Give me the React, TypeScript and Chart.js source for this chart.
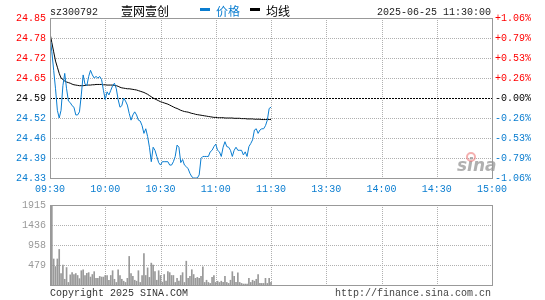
import React, { useEffect, useRef } from "react";
import { Chart, registerables } from "chart.js";

Chart.register(...registerables);

// ---------- data ----------
const prices: number[] = [
  24.79, 24.74, 24.68, 24.62, 24.55, 24.525, 24.55, 24.63, 24.67, 24.62,
  24.58, 24.575, 24.565, 24.56, 24.535, 24.535, 24.545, 24.6, 24.665, 24.635,
  24.63, 24.66, 24.68, 24.665, 24.655, 24.66, 24.655, 24.66, 24.65, 24.615,
  24.585, 24.61, 24.6, 24.615, 24.63, 24.638, 24.62, 24.585, 24.56, 24.565,
  24.59, 24.58, 24.567, 24.54, 24.518, 24.535, 24.545, 24.535, 24.518, 24.515,
  24.5, 24.475, 24.49, 24.465, 24.43, 24.383, 24.43, 24.42, 24.4, 24.38,
  24.372, 24.383, 24.383, 24.383, 24.383, 24.372, 24.372, 24.383, 24.4, 24.437,
  24.43, 24.38, 24.39, 24.372, 24.367, 24.36, 24.345, 24.334, 24.33, 24.33,
  24.33, 24.34, 24.394, 24.4, 24.4, 24.4, 24.4, 24.415, 24.42, 24.432,
  24.44, 24.42, 24.415, 24.4, 24.43, 24.448, 24.432, 24.43, 24.42, 24.4,
  24.42, 24.43, 24.42, 24.42, 24.42, 24.405, 24.415, 24.4, 24.432, 24.442,
  24.454, 24.486, 24.49, 24.475, 24.486, 24.49, 24.49, 24.5, 24.518, 24.556,
  24.56,
];

const avgPrices: number[] = [
  24.8, 24.77, 24.74, 24.71, 24.69, 24.67, 24.655, 24.65, 24.645, 24.642,
  24.64, 24.638, 24.635, 24.633, 24.632, 24.631, 24.63, 24.63, 24.63, 24.631,
  24.632, 24.632, 24.632, 24.633, 24.633, 24.634, 24.634, 24.634, 24.634, 24.633,
  24.633, 24.632, 24.632, 24.632, 24.632, 24.631, 24.63, 24.628, 24.625, 24.623,
  24.622, 24.621, 24.62, 24.62, 24.619, 24.618, 24.617, 24.616, 24.614, 24.612,
  24.61, 24.608, 24.605, 24.602, 24.598, 24.594, 24.59, 24.587, 24.584, 24.581,
  24.578, 24.576, 24.574, 24.572, 24.57, 24.567, 24.564, 24.561, 24.558, 24.556,
  24.553, 24.55, 24.548, 24.546, 24.545, 24.544, 24.542, 24.54, 24.539, 24.537,
  24.536, 24.535, 24.534, 24.533, 24.532, 24.531, 24.53, 24.529, 24.528, 24.527,
  24.527, 24.526, 24.526, 24.526, 24.526, 24.525, 24.525, 24.525, 24.525, 24.525,
  24.524, 24.524, 24.524, 24.524, 24.523, 24.523, 24.523, 24.522, 24.522, 24.522,
  24.522, 24.521, 24.521, 24.521, 24.521, 24.52, 24.52, 24.52, 24.52, 24.52,
  24.52,
];

const volumes: number[] = [
  480, 1915, 623, 441, 623, 851, 274, 479, 137, 418,
  61, 243, 296, 251, 274, 228, 152, 342, 365, 228,
  281, 296, 190, 251, 319, 160, 160, 205, 190, 190,
  228, 228, 114, 228, 342, 137, 61, 365, 228, 137,
  91, 61, 160, 684, 274, 205, 114, 91, 342, 61,
  228, 752, 228, 410, 182, 524, 479, 319, 114, 342,
  228, 68, 251, 91, 319, 296, 228, 228, 61, 160,
  91, 228, 296, 61, 570, 160, 205, 365, 251, 160,
  182, 160, 205, 433, 61, 114, 61, 38, 182, 228,
  61, 91, 61, 91, 61, 205, 61, 38, 114, 319,
  205, 61, 289, 61, 38, 23, 23, 23, 160, 61,
  114, 91, 137, 251, 38, 38, 38, 160, 38, 160,
  61,
];

const timeLabels = ["09:30", "10:00", "10:30", "11:00", "11:30", "13:30", "14:00", "14:30", "15:00"];
const priceTickLabels = ["24.33", "24.39", "24.46", "24.52", "24.59", "24.65", "24.72", "24.78", "24.85"];
const pctTickLabels = ["-1.06%", "-0.79%", "-0.53%", "-0.26%", "-0.00%", "+0.26%", "+0.53%", "+0.79%", "+1.06%"];
const volTickLabels = ["", "479", "958", "1436", "1915"];

const STOCK_CODE = "sz300792";
const STOCK_NAME = "壹网壹创";
const PRICE_LEGEND = "价格";
const AVG_LEGEND = "均线";
const DATE_TEXT = "2025-06-25 11:30:00";
const COPYRIGHT = "Copyright 2025 SINA.COM";
const SITE = "http://finance.sina.com.cn";

const PRICE_MIN = 24.33;
const PRICE_MAX = 24.85;
const PCT_MIN = -1.06;
const PCT_MAX = 1.06;
const VOL_MAX = 1915;
const TOTAL_MIN = 240;

// ---------- styles ----------
const MONO = '"Liberation Mono", "DejaVu Sans Mono", monospace';
const CJK = '"Noto Sans CJK SC", sans-serif';
const BLUE = "#0a7dd0";
const RED = "#ff0000";
const GRID = "#b0b0b0";
const BORDER = "#999999";
const NO_GRID = { display: false, drawTicks: false, tickLength: 0 };

const evenTicks = (min: number, max: number, n: number) =>
  Array.from({ length: n }, (_, i) => ({ value: min + ((max - min) * i) / (n - 1) }));

const tickColor = (i: number) => (i < 4 ? BLUE : i === 4 ? "#000000" : RED);

function hLine(ctx: CanvasRenderingContext2D, x1: number, x2: number, y: number) {
  ctx.beginPath();
  ctx.moveTo(x1, y);
  ctx.lineTo(x2, y);
  ctx.stroke();
}
function vLine(ctx: CanvasRenderingContext2D, x: number, y1: number, y2: number) {
  ctx.beginPath();
  ctx.moveTo(x, y1);
  ctx.lineTo(x, y2);
  ctx.stroke();
}

const priceDecor = {
  id: "priceDecor",
  beforeDatasetsDraw(chart: any) {
    const { ctx, chartArea: a, scales } = chart;
    const xs = scales.x;
    const ys = scales.y;
    ctx.save();
    ctx.lineWidth = 1;
    ctx.strokeStyle = GRID;
    ctx.setLineDash([1, 1]);
    for (let m = 30; m < TOTAL_MIN; m += 30) {
      const px = Math.round(xs.getPixelForValue(m)) + 0.5;
      vLine(ctx, px, a.top, a.bottom);
    }
    ys.ticks.forEach((t: any, i: number) => {
      if (i === 0 || i === ys.ticks.length - 1) return;
      const py = Math.round(ys.getPixelForValue(t.value)) + 0.5;
      if (i === 4) {
        ctx.strokeStyle = "#000000";
        ctx.setLineDash([2, 1]);
      } else {
        ctx.strokeStyle = GRID;
        ctx.setLineDash([1, 1]);
      }
      hLine(ctx, a.left, a.right, py);
    });
    ctx.restore();
  },
  afterDraw(chart: any) {
    const { ctx, chartArea: a } = chart;
    ctx.save();
    ctx.strokeStyle = BORDER;
    ctx.lineWidth = 1;
    ctx.setLineDash([]);
    ctx.strokeRect(Math.round(a.left) + 0.5, Math.round(a.top) + 0.5, Math.round(a.right - a.left), Math.round(a.bottom - a.top));

    // header
    ctx.textBaseline = "alphabetic";
    ctx.fillStyle = "#222";
    ctx.font = `10px ${MONO}`;
    ctx.textAlign = "left";
    ctx.fillText(STOCK_CODE, 50, 15);
    ctx.font = `12px ${CJK}`;
    ctx.fillStyle = "#000";
    ctx.fillText(STOCK_NAME, 121, 16);
    ctx.fillStyle = BLUE;
    ctx.fillRect(200, 8, 10, 3);
    ctx.fillText(PRICE_LEGEND, 216, 16);
    ctx.fillStyle = "#000";
    ctx.fillRect(250, 8, 10, 3);
    ctx.fillText(AVG_LEGEND, 266, 16);
    ctx.font = `10px ${MONO}`;
    ctx.fillStyle = "#222";
    ctx.textAlign = "right";
    ctx.fillText(DATE_TEXT, 491, 15);

    // watermark
    ctx.textAlign = "left";
    ctx.font = `italic bold 17px "DejaVu Sans", sans-serif`;
    ctx.fillStyle = "rgba(150,150,150,0.75)";
    ctx.fillText("sina", 457, 171);
    ctx.strokeStyle = "rgba(235,110,110,0.55)";
    ctx.lineWidth = 2;
    ctx.beginPath();
    ctx.arc(471, 157, 4, 0, Math.PI * 2);
    ctx.stroke();
    ctx.restore();
  },
};

const volDecor = {
  id: "volDecor",
  beforeDatasetsDraw(chart: any) {
    const { ctx, chartArea: a, scales } = chart;
    const xs = scales.x;
    const ys = scales.y;
    ctx.save();
    ctx.lineWidth = 1;
    ctx.strokeStyle = GRID;
    ctx.setLineDash([1, 1]);
    for (let m = 30; m < TOTAL_MIN; m += 30) {
      const px = Math.round(xs.getPixelForValue(m)) + 0.5;
      vLine(ctx, px, a.top, a.bottom);
    }
    ys.ticks.forEach((t: any, i: number) => {
      if (i === 0 || i === ys.ticks.length - 1) return;
      const py = Math.round(ys.getPixelForValue(t.value)) + 0.5;
      hLine(ctx, a.left, a.right, py);
    });
    ctx.restore();
  },
  afterDraw(chart: any) {
    const { ctx, chartArea: a } = chart;
    ctx.save();
    ctx.strokeStyle = BORDER;
    ctx.lineWidth = 1;
    ctx.strokeRect(Math.round(a.left) + 0.5, Math.round(a.top) + 0.5, Math.round(a.right - a.left), Math.round(a.bottom - a.top));
    ctx.font = `10px ${MONO}`;
    ctx.fillStyle = "#333";
    ctx.textAlign = "left";
    ctx.textBaseline = "alphabetic";
    ctx.fillText(COPYRIGHT, 50, 101);
    ctx.fillStyle = "#444";
    ctx.textAlign = "right";
    ctx.fillText(SITE, 491, 101);
    ctx.restore();
  },
};

export default function App() {
  const priceRef = useRef<HTMLCanvasElement>(null);
  const volRef = useRef<HTMLCanvasElement>(null);

  useEffect(() => {
    const priceChart = new Chart(priceRef.current as HTMLCanvasElement, {
      type: "line",
      data: {
        datasets: [
          {
            label: PRICE_LEGEND,
            data: prices.map((p, i) => ({ x: i, y: p })),
            borderColor: BLUE,
            borderWidth: 1,
            pointRadius: 0,
            tension: 0,
            yAxisID: "y",
          },
          {
            label: AVG_LEGEND,
            data: avgPrices.map((p, i) => ({ x: i, y: p })),
            borderColor: "#000000",
            borderWidth: 1,
            pointRadius: 0,
            tension: 0,
            yAxisID: "y",
          },
        ],
      },
      options: {
        responsive: false,
        animation: false,
        events: [],
        layout: { padding: { top: 18, left: 0, right: 0, bottom: 0 } },
        plugins: { legend: { display: false }, tooltip: { enabled: false } },
        scales: {
          x: {
            type: "linear",
            min: 0,
            max: TOTAL_MIN,
            grid: NO_GRID,
            border: { display: false },
            afterBuildTicks: (s: any) => {
              s.ticks = timeLabels.map((_, i) => ({ value: i * 30 }));
            },
            afterFit: (s: any) => {
              s.height = 17;
            },
            ticks: {
              autoSkip: false,
              maxRotation: 0,
              minRotation: 0,
              padding: 5,
              color: BLUE,
              font: { family: MONO, size: 10 },
              callback: (_v: any, i: number) => timeLabels[i],
            },
          },
          y: {
            type: "linear",
            position: "left",
            min: PRICE_MIN,
            max: PRICE_MAX,
            grid: NO_GRID,
            border: { display: false },
            afterBuildTicks: (s: any) => {
              s.ticks = evenTicks(PRICE_MIN, PRICE_MAX, priceTickLabels.length);
            },
            afterFit: (s: any) => {
              s.width = 50;
            },
            ticks: {
              padding: 4,
              color: (c: any) => tickColor(c.index),
              font: { family: MONO, size: 10 },
              callback: (_v: any, i: number) => priceTickLabels[i],
            },
          },
          pct: {
            type: "linear",
            position: "right",
            min: PCT_MIN,
            max: PCT_MAX,
            grid: NO_GRID,
            border: { display: false },
            afterBuildTicks: (s: any) => {
              s.ticks = evenTicks(PCT_MIN, PCT_MAX, pctTickLabels.length);
            },
            afterFit: (s: any) => {
              s.width = 53;
            },
            ticks: {
              padding: 3,
              color: (c: any) => tickColor(c.index),
              font: { family: MONO, size: 10 },
              callback: (_v: any, i: number) => pctTickLabels[i],
            },
          },
        },
      } as any,
      plugins: [priceDecor],
    });

    const volChart = new Chart(volRef.current as HTMLCanvasElement, {
      type: "bar",
      data: {
        datasets: [
          {
            data: volumes.map((v, i) => ({ x: i, y: v })),
            backgroundColor: "#999999",
            barThickness: 1,
            borderWidth: 0,
          },
        ],
      },
      options: {
        responsive: false,
        animation: false,
        events: [],
        layout: { padding: { top: 6, left: 0, right: 53, bottom: 15 } },
        plugins: { legend: { display: false }, tooltip: { enabled: false } },
        scales: {
          x: {
            type: "linear",
            min: 0,
            max: TOTAL_MIN,
            offset: false,
            display: false,
          },
          y: {
            type: "linear",
            position: "left",
            min: 0,
            max: VOL_MAX,
            grid: NO_GRID,
            border: { display: false },
            afterBuildTicks: (s: any) => {
              s.ticks = evenTicks(0, VOL_MAX, volTickLabels.length);
            },
            afterFit: (s: any) => {
              s.width = 50;
            },
            ticks: {
              padding: 4,
              color: "#999999",
              font: { family: MONO, size: 10 },
              callback: (_v: any, i: number) => volTickLabels[i],
            },
          },
        },
      } as any,
      plugins: [volDecor],
    });

    return () => {
      priceChart.destroy();
      volChart.destroy();
    };
  }, []);

  return (
    <div style={{ position: "absolute", left: 0, top: 0, width: 545, height: 300, background: "#fff" }}>
      <canvas
        ref={priceRef}
        width={545}
        height={195}
        style={{ position: "absolute", left: 0, top: 0, width: 545, height: 195 }}
      />
      <canvas
        ref={volRef}
        width={545}
        height={105}
        style={{ position: "absolute", left: 0, top: 195, width: 545, height: 105 }}
      />
    </div>
  );
}
